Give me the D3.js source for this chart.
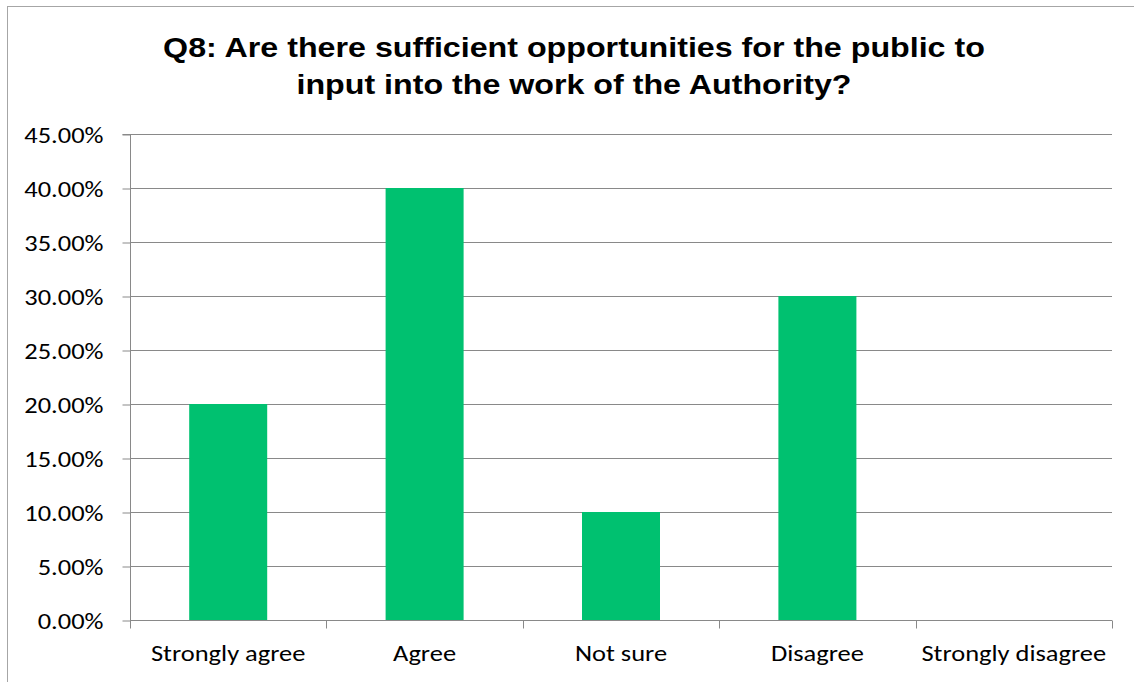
<!DOCTYPE html>
<html>
<head>
<meta charset="utf-8">
<script src="https://cdn.jsdelivr.net/npm/d3@7"></script>
<style>
  html, body { margin: 0; padding: 0; background: #fff; }
  svg { display: block; }
  .lbl { font-family: Carlito, Calibri, Lato, "Open Sans", sans-serif; fill: #000; }
  .title { font-family: "Liberation Sans", Arial, sans-serif; font-weight: bold; fill: #000; }
</style>
</head>
<body>
<svg id="chart" width="1134" height="682"></svg>
<script>
// Survey responses, share of respondents
const categories = ["Strongly agree", "Agree", "Not sure", "Disagree", "Strongly disagree"];
const shares = [0.20, 0.40, 0.10, 0.30, 0.00];
const yTicks = [0, 0.05, 0.10, 0.15, 0.20, 0.25, 0.30, 0.35, 0.40, 0.45];
const titleLines = ["Q8: Are there sufficient opportunities for the public to",
                    "input into the work of the Authority?"];

const svg = d3.select("#chart");
const plot = { left: 130, right: 1112, top: 134, bottom: 620 };
const gridColor = "#898989";
const widen = 1.15; // horizontal text stretch of the chart layout

// stretch text horizontally while keeping its anchor
function stretch(sel) {
  sel.each(function () {
    const w = this.getComputedTextLength();
    d3.select(this).attr("textLength", w * widen).attr("lengthAdjust", "spacingAndGlyphs");
  });
}

// outer chart frame
svg.append("rect")
  .attr("x", 7.5).attr("y", 6.5)
  .attr("width", 1140).attr("height", 700)
  .attr("fill", "none").attr("stroke", "#a6a6a6").attr("stroke-width", 1);

const x = d3.scaleBand().domain(categories).range([plot.left, plot.right]).paddingInner(0).paddingOuter(0);
const y = d3.scaleLinear().domain([0, 0.45]).range([plot.bottom, plot.top]);

// horizontal gridlines
svg.append("g").selectAll("line").data(yTicks).join("line")
  .attr("x1", plot.left).attr("x2", plot.right)
  .attr("y1", d => Math.round(y(d)) + 0.5).attr("y2", d => Math.round(y(d)) + 0.5)
  .attr("stroke", gridColor).attr("stroke-width", 1);

// bars
const barW = 78;
svg.append("g").selectAll("rect").data(categories).join("rect")
  .attr("x", (d) => x(d) + x.bandwidth() / 2 - barW / 2)
  .attr("width", barW)
  .attr("y", (d, i) => y(shares[i]))
  .attr("height", (d, i) => y(0) - y(shares[i]))
  .attr("fill", "#00c170");

// y axis
const yAxis = d3.axisLeft(y).tickValues(yTicks).tickSize(8).tickPadding(19)
  .tickFormat(d => (d * 100).toFixed(2) + "%");
const gy = svg.append("g").attr("transform", `translate(${plot.left + 0.5},0.5)`).call(yAxis);
gy.select(".domain").attr("stroke", gridColor).attr("d", `M-8,${plot.top}H0V${plot.bottom}`);
gy.selectAll(".tick line").attr("stroke", gridColor);
gy.selectAll(".tick text").attr("class", "lbl").style("font-size", "23px").attr("dy", "0.35em").call(stretch);

// x axis with ticks on category boundaries
const gx = svg.append("g").attr("transform", `translate(0,${plot.bottom + 0.5})`);
gx.append("line").attr("x1", plot.left).attr("x2", plot.right).attr("stroke", gridColor);
const bounds = categories.map(c => x(c)).concat([plot.right]);
gx.selectAll("line.tk").data(bounds).join("line").attr("class", "tk")
  .attr("x1", d => Math.round(d) + 0.5).attr("x2", d => Math.round(d) + 0.5)
  .attr("y1", 0).attr("y2", 8).attr("stroke", gridColor);
gx.selectAll("text").data(categories).join("text")
  .attr("class", "lbl")
  .attr("x", d => x(d) + x.bandwidth() / 2)
  .attr("y", 40)
  .attr("text-anchor", "middle")
  .style("font-size", "23px")
  .text(d => d)
  .call(stretch);

// title
svg.append("g").selectAll("text").data(titleLines).join("text")
  .attr("class", "title")
  .attr("x", 574)
  .attr("y", (d, i) => 57 + i * 37)
  .attr("text-anchor", "middle")
  .style("font-size", "28px")
  .text(d => d)
  .call(stretch);
</script>
</body>
</html>
